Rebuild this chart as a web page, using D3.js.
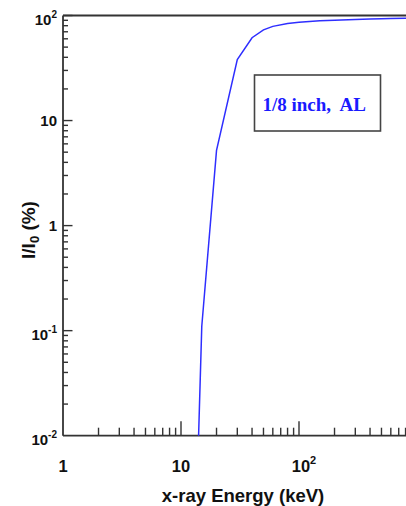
<!DOCTYPE html>
<html>
<head>
<meta charset="utf-8">
<script src="https://cdn.jsdelivr.net/npm/d3@7"></script>
<style>
  html, body { margin: 0; padding: 0; background: #fff; overflow: hidden; }
  svg { display: block; }
  text { font-family: "Liberation Sans", Arial, sans-serif; font-weight: bold; fill: #111; }
  text.legend { font-family: "Liberation Serif", "Times New Roman", serif; fill: #1a1aff; }
</style>
</head>
<body>
<svg id="chart" width="406" height="506"></svg>
<script>
// Photon energy (keV) and transmitted fraction I/I0 (%) through 1/8 inch of aluminium
const energyKeV = [10, 15, 20, 30, 40, 50, 60, 80, 100, 150, 200, 300, 400, 500, 600, 800, 1000];
const transmissionPct = [1.8e-8, 0.11, 5.2, 38, 61.4, 72.9, 78.8, 84.1, 86.4, 88.9, 90.0, 91.5, 92.4, 93.0, 93.5, 94.3, 94.9];

// Axis decade labels: base and exponent ("" for none)
const xTickLabels = [{v: 1, base: "1", exp: ""}, {v: 10, base: "10", exp: ""}, {v: 100, base: "10", exp: "2"}];
const yTickLabels = [
  {v: 100, base: "10", exp: "2"},
  {v: 10, base: "10", exp: ""},
  {v: 1, base: "1", exp: ""},
  {v: 0.1, base: "10", exp: "-1"},
  {v: 0.01, base: "10", exp: "-2"}
];
const legendLabel = "1/8 inch,\u00a0 AL";

(function () {
const svg = d3.select("#chart");
const plotLeft = 63, plotTop = 15.5, plotBottom = 435.7, decadeX = 118;
const plotRight = 406;

const x = d3.scaleLog().domain([1, 1000]).range([plotLeft, plotLeft + 3 * decadeX]);
const y = d3.scaleLog().domain([0.01, 100]).range([plotBottom, plotTop]);

const axisColor = "#333";

// Clip region for the curve
svg.append("defs").append("clipPath").attr("id", "plotClip")
  .append("rect").attr("x", plotLeft).attr("y", plotTop)
  .attr("width", plotRight - plotLeft).attr("height", plotBottom - plotTop);

// Frame: top edge, left and bottom axes
svg.append("line").attr("x1", plotLeft).attr("x2", plotRight).attr("y1", plotTop).attr("y2", plotTop)
  .attr("stroke", axisColor).attr("stroke-width", 1.8);
svg.append("line").attr("x1", plotLeft).attr("x2", plotLeft).attr("y1", plotTop).attr("y2", plotBottom)
  .attr("stroke", axisColor).attr("stroke-width", 1.8);
svg.append("line").attr("x1", plotLeft).attr("x2", plotRight).attr("y1", plotBottom).attr("y2", plotBottom)
  .attr("stroke", axisColor).attr("stroke-width", 1.8);

const isDecade = v => Math.abs(Math.log10(v) - Math.round(Math.log10(v))) < 1e-9;

// X ticks point up into the plot
const xt = x.ticks().filter(v => x(v) <= plotRight && v > 1);
svg.append("g").selectAll("line").data(xt).join("line")
  .attr("x1", d => x(d)).attr("x2", d => x(d))
  .attr("y1", plotBottom).attr("y2", d => plotBottom - (isDecade(d) ? 14.5 : 8))
  .attr("stroke", axisColor).attr("stroke-width", 1.4);

// Y ticks point right into the plot
const yt = y.ticks().filter(v => v > 0.01 && v <= 100);
svg.append("g").selectAll("line").data(yt).join("line")
  .attr("x1", plotLeft).attr("x2", d => plotLeft + (isDecade(d) ? 9.5 : 5))
  .attr("y1", d => y(d)).attr("y2", d => y(d))
  .attr("stroke", axisColor).attr("stroke-width", 1.4);

// X tick labels
const xl = svg.append("g").selectAll("text").data(xTickLabels).join("text")
  .attr("x", d => x(d.v) + (d.exp ? 5 : 0)).attr("y", 471.5)
  .attr("text-anchor", "middle").attr("font-size", 16.5);
xl.append("tspan").text(d => d.base);
xl.filter(d => d.exp).append("tspan").attr("dy", -8).attr("font-size", 11).text(d => d.exp);

// Y tick labels (right-aligned against the axis)
const yl = svg.append("g").selectAll("text").data(yTickLabels).join("text")
  .attr("x", 57).attr("y", d => y(d.v) + (d.exp ? 9 : 5.5))
  .attr("text-anchor", "end").attr("font-size", 15);
yl.append("tspan").text(d => d.base);
yl.filter(d => d.exp).append("tspan").attr("dy", -7).attr("font-size", 10).text(d => d.exp);

// Axis titles
svg.append("text").attr("x", 243).attr("y", 501.5).attr("text-anchor", "middle")
  .attr("font-size", 18.5).text("x-ray Energy (keV)");

const yTitle = svg.append("text").attr("transform", "translate(35,230) rotate(-90)")
  .attr("text-anchor", "middle").attr("font-size", 19);
yTitle.append("tspan").text("I/I");
yTitle.append("tspan").attr("dy", 4).attr("font-size", 13).text("0");
yTitle.append("tspan").attr("dy", -4).text(" (%)");

// Transmission curve
const line = d3.line().x(d => x(d[0])).y(d => y(d[1]));
svg.append("path")
  .datum(d3.zip(energyKeV, transmissionPct))
  .attr("clip-path", "url(#plotClip)")
  .attr("d", line)
  .attr("fill", "none").attr("stroke", "#2e2eff").attr("stroke-width", 1.5);

// Legend box
svg.append("rect").attr("x", 254.5).attr("y", 75).attr("width", 126).attr("height", 56)
  .attr("fill", "#fff").attr("stroke", "#444").attr("stroke-width", 1.6);
svg.append("text").attr("class", "legend").attr("x", 262.5).attr("y", 110.5)
  .attr("font-size", 19).text(legendLabel);
})();
</script>
</body>
</html>
